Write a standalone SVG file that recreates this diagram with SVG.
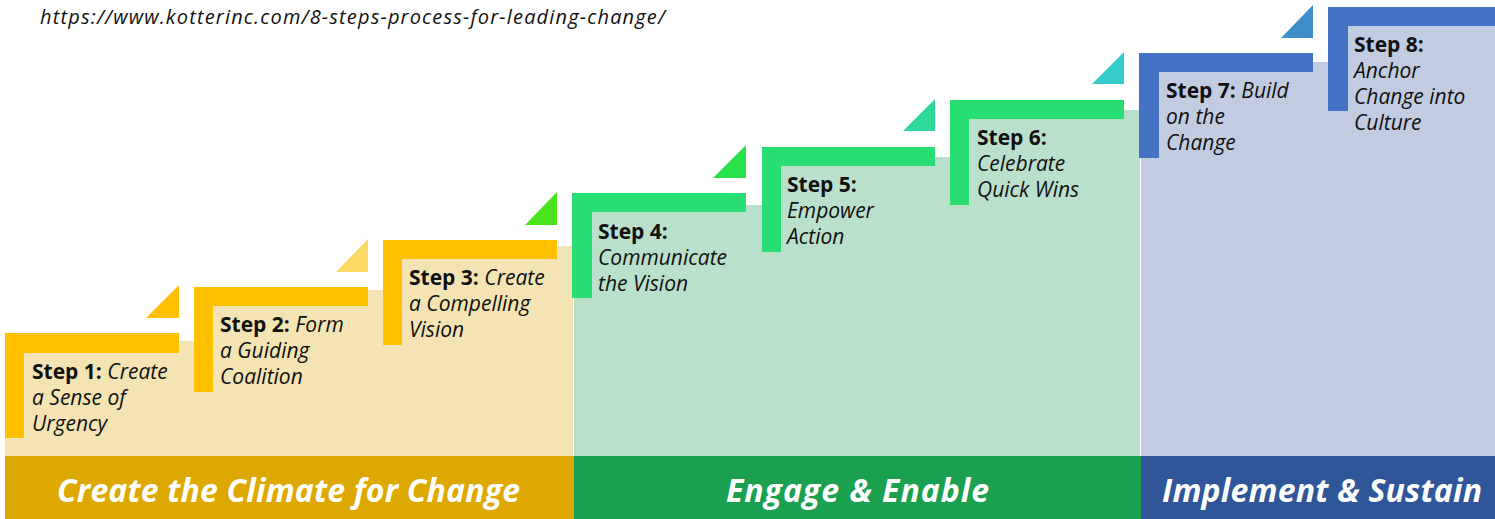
<svg xmlns="http://www.w3.org/2000/svg" width="1495" height="519" viewBox="0 0 1495 519">
  <style>
    .txt { font-family: "Open Sans", "Liberation Sans", sans-serif; font-size: 21px; fill: #111111; }
    .b { font-weight: 700; font-style: normal; }
    .i { font-style: italic; }
    .phase { font-family: "Open Sans", "Liberation Sans", sans-serif; font-size: 32px; font-weight: 700; font-style: italic; fill: #ffffff; text-anchor: middle; }
    .url { font-family: "Open Sans", "Liberation Sans", sans-serif; font-size: 20px; font-style: italic; fill: #111111; }
    .barY { fill: #FFC000; }
    .barG { fill: #28DE72; }
    .barB { fill: #4472C4; }
  </style>

  <rect x="0" y="0" width="1495" height="519" fill="#ffffff"/>

  <!-- source link -->
  <text class="url" x="40" y="24" textLength="625" lengthAdjust="spacing">https://www.kotterinc.com/8-steps-process-for-leading-change/</text>

  <!-- phase backdrops (stepped) -->
  <g id="backdrops">
    <polygon fill="#F4E4B4" points="5,341 194,341 194,290 383,290 383,246 573,246 573,456 5,456"/>
    <polygon fill="#BAE0CB" points="574,205 762,205 762,157 950,157 950,110 1140,110 1140,456 574,456"/>
    <polygon fill="#C2CCE1" points="1141,62 1328,62 1328,20 1495,20 1495,456 1141,456"/>
  </g>

  <!-- phase bars -->
  <g id="phase-climate">
    <rect x="5" y="456" width="569" height="63" fill="#DDA900"/>
    <text class="phase" x="288.5" y="502" textLength="463" lengthAdjust="spacing">Create the Climate for Change</text>
  </g>
  <g id="phase-engage">
    <rect x="574" y="456" width="567" height="63" fill="#1BA050"/>
    <text class="phase" x="857.5" y="502" textLength="263" lengthAdjust="spacing">Engage &amp; Enable</text>
  </g>
  <g id="phase-implement">
    <rect x="1141" y="456" width="354" height="63" fill="#2F5698"/>
    <text class="phase" x="1322" y="502" textLength="320" lengthAdjust="spacing">Implement &amp; Sustain</text>
  </g>

  <!-- step markers: L bar + corner triangle + label -->
  <g id="step1">
    <path class="barY" d="M5,333 H179 V353 H24 V438 H5 Z"/>
    <polygon fill="#FFC000" points="146,318 179,318 179,285"/>
    <text class="txt" x="32" y="379"><tspan class="b">Step 1:</tspan><tspan class="i"> Create</tspan><tspan class="i" x="32" dy="26">a Sense of</tspan><tspan class="i" x="32" dy="26">Urgency</tspan></text>
  </g>
  <g id="step2">
    <path class="barY" d="M194,287 H368 V306 H213 V392 H194 Z"/>
    <polygon fill="#FFD966" points="336,272 368,272 368,239"/>
    <text class="txt" x="220" y="332"><tspan class="b">Step 2:</tspan><tspan class="i"> Form</tspan><tspan class="i" x="220" dy="26">a Guiding</tspan><tspan class="i" x="220" dy="26">Coalition</tspan></text>
  </g>
  <g id="step3">
    <path class="barY" d="M383,240 H557 V259 H402 V345 H383 Z"/>
    <polygon fill="#4AE41F" points="525,225 557,225 557,192"/>
    <text class="txt" x="409" y="285"><tspan class="b">Step 3:</tspan><tspan class="i"> Create</tspan><tspan class="i" x="409" dy="26">a Compelling</tspan><tspan class="i" x="409" dy="26">Vision</tspan></text>
  </g>
  <g id="step4">
    <path class="barG" d="M572,193 H746 V212 H592 V298 H572 Z"/>
    <polygon fill="#28E24A" points="713,178 746,178 746,145"/>
    <text class="txt" x="598" y="239"><tspan class="b">Step 4:</tspan><tspan class="i" x="598" dy="26">Communicate</tspan><tspan class="i" x="598" dy="26">the Vision</tspan></text>
  </g>
  <g id="step5">
    <path class="barG" d="M762,147 H935 V166 H781 V252 H762 Z"/>
    <polygon fill="#2ED898" points="903,131 935,131 935,99"/>
    <text class="txt" x="787" y="192"><tspan class="b">Step 5:</tspan><tspan class="i" x="787" dy="26">Empower</tspan><tspan class="i" x="787" dy="26">Action</tspan></text>
  </g>
  <g id="step6">
    <path class="barG" d="M950,100 H1124 V119 H969 V205 H950 Z"/>
    <polygon fill="#35CCCE" points="1092,84 1124,84 1124,52"/>
    <text class="txt" x="977" y="145"><tspan class="b">Step 6:</tspan><tspan class="i" x="977" dy="26">Celebrate</tspan><tspan class="i" x="977" dy="26">Quick Wins</tspan></text>
  </g>
  <g id="step7">
    <path class="barB" d="M1139,53 H1313 V72 H1159 V158 H1139 Z"/>
    <polygon fill="#3F8EC9" points="1281,38 1313,38 1313,5"/>
    <text class="txt" x="1166" y="98"><tspan class="b">Step 7:</tspan><tspan class="i"> Build</tspan><tspan class="i" x="1166" dy="26">on the</tspan><tspan class="i" x="1166" dy="26">Change</tspan></text>
  </g>
  <g id="step8">
    <path class="barB" d="M1328,7 H1495 V26 H1348 V111 H1328 Z"/>
    <text class="txt" x="1354" y="52"><tspan class="b">Step 8:</tspan><tspan class="i" x="1354" dy="26">Anchor</tspan><tspan class="i" x="1354" dy="26">Change into</tspan><tspan class="i" x="1354" dy="26">Culture</tspan></text>
  </g>

  <!-- no connectors in this chart -->
  <g id="connectors"/>
</svg>
